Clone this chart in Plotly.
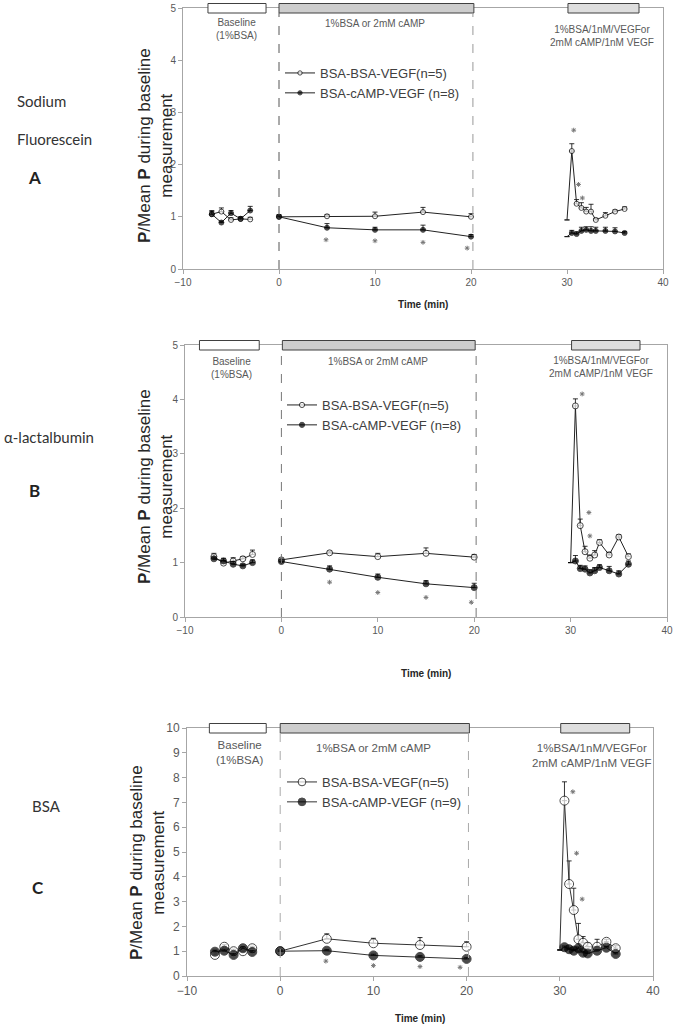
import plotly.graph_objects as go

W, H = 675, 1027

# ---------------- DATA ----------------
base_x = [-7, -6, -5, -4, -3]
treat_x = [0, 5, 10, 15, 20]
vegf_x = [30, 30.5, 31, 31.5, 32, 32.5, 33, 34, 35, 36]

# Panel A: Sodium Fluorescein
A_open_base = [1.05, 1.10, 0.94, 0.96, 0.95]
A_open_base_err = [0.07, 0.07, 0.04, 0.04, 0.04]
A_fill_base = [1.05, 0.89, 1.07, 0.96, 1.12]
A_fill_base_err = [0.05, 0.03, 0.05, 0.03, 0.08]
A_open_treat = [1.00, 1.01, 1.01, 1.09, 1.00]
A_open_treat_err = [0.03, 0.03, 0.08, 0.09, 0.06]
A_fill_treat = [1.00, 0.79, 0.75, 0.75, 0.62]
A_fill_treat_err = [0.04, 0.08, 0.05, 0.09, 0.04]
A_open_vegf = [0.94, 2.26, 1.25, 1.17, 1.10, 1.10, 0.94, 1.02, 1.10, 1.15]
A_open_vegf_err = [0, 0.14, 0.08, 0.10, 0.08, 0.14, 0.03, 0.06, 0.03, 0.04]
A_fill_vegf = [0.62, 0.69, 0.67, 0.73, 0.75, 0.73, 0.73, 0.73, 0.72, 0.69]
A_fill_vegf_err = [0, 0.05, 0.04, 0.07, 0.06, 0.08, 0.07, 0.07, 0.07, 0.03]
A_star_x = [4.9, 10, 15, 19.6, 30.7, 31.2, 31.6]
A_star_y = [0.56, 0.54, 0.51, 0.40, 2.66, 1.62, 1.36]

# Panel B: alpha-lactalbumin
B_open_base = [1.11, 0.99, 1.03, 1.07, 1.15]
B_open_base_err = [0.06, 0.05, 0.06, 0.04, 0.08]
B_fill_base = [1.07, 1.03, 0.97, 0.94, 1.00]
B_fill_base_err = [0.03, 0.05, 0.05, 0.03, 0.05]
B_open_treat = [1.05, 1.18, 1.11, 1.17, 1.10]
B_open_treat_err = [0.03, 0.03, 0.06, 0.10, 0.05]
B_fill_treat = [1.02, 0.88, 0.73, 0.61, 0.54]
B_fill_treat_err = [0.03, 0.06, 0.06, 0.06, 0.08]
B_open_vegf = [1.00, 3.88, 1.68, 1.20, 1.08, 1.14, 1.37, 1.14, 1.47, 1.11]
B_open_vegf_err = [0, 0.13, 0.12, 0.10, 0.06, 0.08, 0.05, 0.05, 0.04, 0.05]
B_fill_vegf = [1.00, 1.03, 0.89, 0.88, 0.81, 0.85, 0.91, 0.85, 0.79, 0.97]
B_fill_vegf_err = [0, 0.10, 0.06, 0.06, 0.06, 0.06, 0.05, 0.08, 0.06, 0.06]
B_star_x = [5, 10, 15, 19.7, 31.2, 31.9, 32.0]
B_star_y = [0.64, 0.45, 0.36, 0.27, 4.10, 1.92, 1.49]

# Panel C: BSA
C_open_base = [0.85, 1.18, 1.00, 1.00, 1.12]
C_open_base_err = [0.08, 0.08, 0.08, 0.08, 0.08]
C_fill_base = [0.98, 1.02, 0.85, 1.12, 0.97]
C_fill_base_err = [0.06, 0.06, 0.06, 0.06, 0.06]
C_open_treat = [1.00, 1.50, 1.32, 1.25, 1.18]
C_open_treat_err = [0.05, 0.20, 0.20, 0.30, 0.20]
C_fill_treat = [1.00, 1.02, 0.83, 0.77, 0.69]
C_fill_treat_err = [0.05, 0.05, 0.05, 0.05, 0.05]
C_open_vegf = [1.05, 7.07, 3.71, 2.66, 1.48, 1.34, 1.18, 1.18, 1.38, 1.12]
C_open_vegf_err = [0, 0.76, 0.93, 0.88, 0.64, 0.25, 0.15, 0.30, 0.10, 0.10]
C_fill_vegf = [1.05, 1.16, 1.08, 1.02, 1.12, 0.94, 0.91, 1.02, 1.14, 0.89]
C_fill_vegf_err = [0, 0.05, 0.05, 0.05, 0.05, 0.05, 0.05, 0.05, 0.05, 0.05]
C_star_x = [4.9, 10, 15, 19.3, 31.4, 31.8, 32.4]
C_star_y = [0.60, 0.42, 0.38, 0.35, 7.43, 4.95, 3.10]

legend_open = "BSA-BSA-VEGF(n=5)"
legend_fill_A = "BSA-cAMP-VEGF (n=8)"
legend_fill_B = "BSA-cAMP-VEGF (n=8)"
legend_fill_C = "BSA-cAMP-VEGF (n=9)"

# period bars [start, end] in minutes
bar_base = {"A": [-7.4, -1.35], "B": [-8.5, -2.3], "C": [-7.6, -1.5]}
bar_treat = {"A": [0, 20.3], "B": [0.1, 20.1], "C": [0, 20.3]}
bar_vegf = {"A": [30.1, 37.5], "B": [30.1, 37.2], "C": [30.1, 37.5]}
dash_x = [0, 20.2]

# ---------------- LAYOUT GEOMETRY (pixels) ----------------
panels = {
    "A": dict(x0=183, x1=663, ytop=8, ybot=269, ymax=5, ax="", msize=5),
    "B": dict(x0=185, x1=667, ytop=345, ybot=617, ymax=5, ax="2", msize=6),
    "C": dict(x0=187, x1=653, ytop=728, ybot=976, ymax=10, ax="3", msize=9),
}

def px(x):
    return x / W

def py(y):
    return 1 - y / H

fig = go.Figure()

def join(segs):
    out = []
    for i, s in enumerate(segs):
        if i:
            out.append(None)
        out.extend(s)
    return out

data = {
    "A": (A_open_base, A_open_base_err, A_fill_base, A_fill_base_err, A_open_treat, A_open_treat_err,
          A_fill_treat, A_fill_treat_err, A_open_vegf, A_open_vegf_err, A_fill_vegf, A_fill_vegf_err,
          A_star_x, A_star_y, legend_fill_A),
    "B": (B_open_base, B_open_base_err, B_fill_base, B_fill_base_err, B_open_treat, B_open_treat_err,
          B_fill_treat, B_fill_treat_err, B_open_vegf, B_open_vegf_err, B_fill_vegf, B_fill_vegf_err,
          B_star_x, B_star_y, legend_fill_B),
    "C": (C_open_base, C_open_base_err, C_fill_base, C_fill_base_err, C_open_treat, C_open_treat_err,
          C_fill_treat, C_fill_treat_err, C_open_vegf, C_open_vegf_err, C_fill_vegf, C_fill_vegf_err,
          C_star_x, C_star_y, legend_fill_C),
}

legend_pos = {"A": (280, 58), "B": (282, 390), "C": (282, 767)}
legend_names = {"A": "legend", "B": "legend2", "C": "legend3"}

for key, p in panels.items():
    (ob, obe, fb, fbe, ot, ote, ft, fte, ov, ove, fv, fve, sx, sy, lf) = data[key]
    xs = join([base_x, treat_x, vegf_x])
    ms = p["msize"]
    sizes = [ms] * len(base_x) + [0] + [ms] * len(treat_x) + [0] + [0] + [ms] * (len(vegf_x) - 1)
    xa = "x" + p["ax"]
    ya = "y" + p["ax"]
    lname = legend_names[key]
    lc = "#222222" if key != "C" else "#333333"
    # open circles
    fig.add_trace(go.Scatter(
        x=xs, y=join([ob, ot, ov]), mode="lines+markers", name=legend_open,
        xaxis=xa, yaxis=ya, legend=lname, cliponaxis=False,
        line=dict(color=lc, width=1),
        marker=dict(symbol="circle", size=sizes, color="white", line=dict(color="black", width=1)),
        error_y=dict(type="data", symmetric=False, array=join([obe, ote, ove]),
                     arrayminus=[0] * len(xs), color="black", thickness=0.8, width=2.5),
    ))
    # filled circles
    fig.add_trace(go.Scatter(
        x=xs, y=join([fb, ft, fv]), mode="lines+markers", name=lf,
        xaxis=xa, yaxis=ya, legend=lname, cliponaxis=False,
        line=dict(color=lc, width=1),
        marker=dict(symbol="circle", size=sizes, color="black", line=dict(color="black", width=1)),
        error_y=dict(type="data", symmetric=False, array=join([fbe, fte, fve]),
                     arrayminus=[0] * len(xs), color="black", thickness=0.8, width=2.5),
    ))
    # significance asterisks
    fig.add_trace(go.Scatter(
        x=sx, y=sy, mode="markers", showlegend=False, xaxis=xa, yaxis=ya,
        marker=dict(symbol="asterisk-open", size=4, color="#777777",
                    line=dict(color="#777777", width=1)),
    ))

    ymax = p["ymax"]
    axis_common = dict(showline=True, linecolor="#a6a6a6", linewidth=1, mirror=True,
                       showgrid=False, zeroline=False, ticks="outside", ticklen=4,
                       tickcolor="#a6a6a6", automargin=False,
                       tickfont=dict(family="Liberation Sans, Arial", size=10 if key != "C" else 12,
                                     color="#595959"))
    fig.update_layout(**{
        "xaxis" + p["ax"]: dict(domain=[px(p["x0"]), px(p["x1"])], range=[-10, 40],
                                tickvals=[-10, 0, 10, 20, 30, 40], anchor=ya, **axis_common),
        "yaxis" + p["ax"]: dict(domain=[py(p["ybot"]), py(p["ytop"])], range=[0, ymax],
                                dtick=1, anchor=xa, **axis_common),
    })

    # top period bars (domain coordinates so they can sit over the frame)
    dh = p["ybot"] - p["ytop"]
    btop = 1 + 4.5 / dh
    bbot = 1 - 5.0 / dh
    def xd(v):
        return (v + 10) / 50.0
    for rng, fc in ((bar_base[key], "white"), (bar_treat[key], "#cdcdcd"), (bar_vegf[key], "#dedede")):
        fig.add_shape(type="rect", xref=xa + " domain", yref=ya + " domain",
                      x0=xd(rng[0]), x1=xd(rng[1]), y0=bbot, y1=btop,
                      fillcolor=fc, line=dict(color="#404040", width=1), layer="above")
    dcol = {"A": ["#555555", "#999999"], "B": ["#777777", "#777777"], "C": ["#aaaaaa", "#aaaaaa"]}[key]
    for dx, dc in zip(dash_x, dcol):
        fig.add_shape(type="line", xref=xa, yref=ya + " domain", x0=dx, x1=dx, y0=0, y1=bbot,
                      line=dict(color=dc, width=1, dash="dash"))

    # legend
    lx, ly = legend_pos[key]
    fig.update_layout(**{lname: dict(x=px(lx), y=py(ly), xanchor="left", yanchor="top",
                                     bgcolor="rgba(0,0,0,0)", tracegroupgap=0,
                                     font=dict(family="Liberation Sans, Arial", size=13, color="#404040"))})

# ---------------- TEXT ----------------
tf = dict(family="Liberation Sans, Arial", color="#595959")
period_text = {
    "A": [(-4.4, 4.60, 10), (10, 4.71, 10), (33.6, 4.46, 10)],
    "B": [(-5.2, 4.58, 10), (10, 4.69, 10), (33.2, 4.59, 10)],
    "C": [(-4.4, 9.0, 11.5), (10, 9.18, 11.5), (33.5, 8.9, 11.5)],
}
labels = ["Baseline<br>(1%BSA)", "1%BSA or 2mM cAMP", "1%BSA/1nM/VEGFor<br>2mM cAMP/1nM VEGF"]
for key, p in panels.items():
    for (x, y, s), t in zip(period_text[key], labels):
        fig.add_annotation(x=x, y=y, xref="x" + p["ax"], yref="y" + p["ax"], text=t, showarrow=False,
                           xanchor="center", yanchor="middle", font=dict(size=s, **tf))
    # y title
    fig.add_annotation(x=px({"A": 155, "B": 155, "C": 147}[key]),
                       y=py({"A": 146, "B": 487, "C": 863}[key]),
                       xref="paper", yref="paper", textangle=-90, showarrow=False,
                       xanchor="center", yanchor="middle",
                       text="<b>P</b>/Mean <b>P</b> during baseline<br>measurement",
                       font=dict(family="Liberation Sans, Arial", size=17, color="#262626"))
    # x title
    fig.add_annotation(x=0.5, y=py({"A": 305, "B": 673, "C": 1018}[key]), xref="x" + p["ax"] + " domain",
                       yref="paper", text="<b>Time (min)</b>", showarrow=False,
                       xanchor="center", yanchor="middle",
                       font=dict(family="Liberation Sans, Arial", size=10, color="#262626"))

side_font = dict(family="Lato", size=15, color="#333333")
letter_font = dict(family="Lato", size=17, color="#222222")
for t, x, y, f, anc in [
    ("Sodium", 15, 101, side_font, "left"),
    ("Fluorescein", 15, 139, side_font, "left"),
    ("<b>A</b>", 34, 177, letter_font, "center"),
    ("α-lactalbumin", 2, 437, side_font, "left"),
    ("<b>B</b>", 34, 491, letter_font, "center"),
    ("BSA", 30, 806, side_font, "left"),
    ("<b>C</b>", 38, 887, letter_font, "center"),
]:
    fig.add_annotation(x=px(x), y=py(y), xref="paper", yref="paper", text=t, showarrow=False,
                       xanchor=anc, yanchor="middle", font=f)

fig.update_layout(width=W, height=H, margin=dict(l=0, r=0, t=0, b=0, autoexpand=False),
                  paper_bgcolor="white", plot_bgcolor="white", showlegend=True)

# remove the default page margin so the figure starts at the window's top-left corner
fig.write_html("out.html", config={"displayModeBar": False},
               post_script="document.body.style.margin='0';document.body.style.overflow='hidden';")
